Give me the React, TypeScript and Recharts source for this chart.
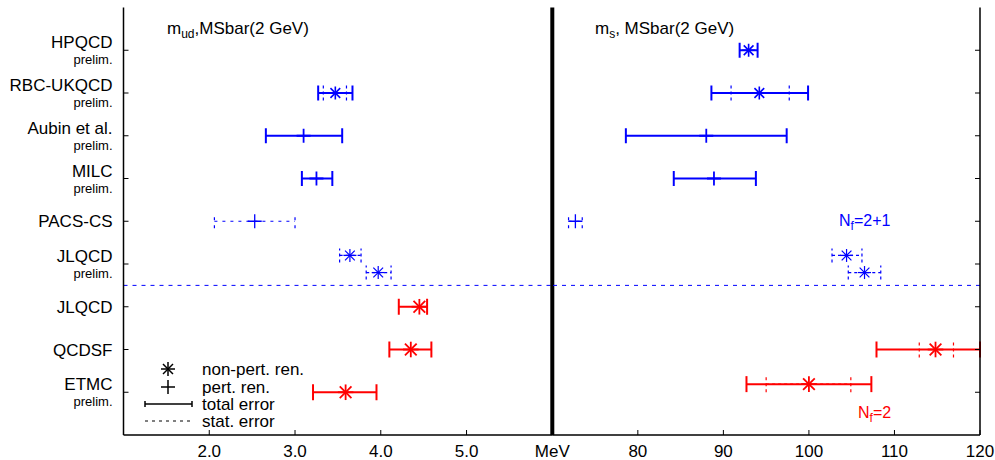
import { ScatterChart, Scatter, XAxis, YAxis, ErrorBar, ReferenceLine } from "recharts";

const FONT = "'Liberation Sans', Arial, Helvetica, sans-serif";
const BLUE = "#0000ff";
const RED = "#ff0000";

// rows, counted from the bottom (ETMC = 1)
const rowIndex = [9, 8, 7, 6, 5, 4, 3, 2, 1];
const rowNames = ["HPQCD", "RBC-UKQCD", "Aubin et al.", "MILC", "PACS-CS", "JLQCD", "JLQCD", "QCDSF", "ETMC"];
const rowPrelim = [true, true, true, true, false, true, false, false, true];

const udTicks = [2, 3, 4, 5, 6];
const udTickLabels = ["2.0", "3.0", "4.0", "5.0", "MeV"];
const sTicks = [80, 90, 100, 110, 120];
const sTickLabels = ["80", "90", "100", "110", "120"];

type Pt = { row: number; val: number; lo?: number; hi?: number; sLo?: number; sHi?: number };

// m_ud (MeV)
const udNp21: Pt[] = [{ row: 8, val: 3.47, lo: 3.27, hi: 3.67, sLo: 3.33, sHi: 3.6 }];
const udPt21: Pt[] = [
  { row: 7, val: 3.1, lo: 2.66, hi: 3.55 },
  { row: 6, val: 3.25, lo: 3.08, hi: 3.435 },
];
const udPtStat21: Pt[] = [{ row: 5, val: 2.53, sLo: 2.06, sHi: 3.0 }];
const udNpStat21: Pt[] = [
  { row: 4.2, val: 3.64, sLo: 3.52, sHi: 3.77 },
  { row: 3.8, val: 3.97, sLo: 3.83, sHi: 4.12 },
];
const udNp2: Pt[] = [
  { row: 3, val: 4.45, lo: 4.21, hi: 4.54 },
  { row: 2, val: 4.35, lo: 4.1, hi: 4.59 },
  { row: 1, val: 3.59, lo: 3.21, hi: 3.95 },
];

// m_s (MeV)
const sNp21: Pt[] = [
  { row: 9, val: 92.95, lo: 91.9, hi: 94.0 },
  { row: 8, val: 94.2, lo: 88.6, hi: 99.9, sLo: 90.9, sHi: 97.7 },
];
const sPt21: Pt[] = [
  { row: 7, val: 88.0, lo: 78.6, hi: 97.4 },
  { row: 6, val: 88.9, lo: 84.2, hi: 93.8 },
];
const sPtStat21: Pt[] = [{ row: 5, val: 72.7, sLo: 71.9, sHi: 73.5 }];
const sNpStat21: Pt[] = [
  { row: 4.2, val: 104.4, sLo: 102.7, sHi: 106.2 },
  { row: 3.8, val: 106.5, sLo: 104.6, sHi: 108.4 },
];
const sNp2: Pt[] = [
  { row: 2, val: 114.8, lo: 107.9, hi: 120.0, sLo: 112.9, sHi: 116.9 },
  { row: 1.19, val: 100.0, lo: 92.7, hi: 107.3, sLo: 95.0, sHi: 104.9 },
];

const totErr = (d: Pt) => (d.lo == null || d.hi == null ? null : [d.val - d.lo, d.hi - d.val]);
const statErr = (d: Pt) => (d.sLo == null || d.sHi == null ? null : [d.val - d.sLo, d.sHi - d.val]);

const starShape = (color: string, r: number, w: number) => (p: any) => {
  const { cx, cy } = p;
  const d = r * 0.75;
  return (
    <g stroke={color} strokeWidth={w}>
      <line x1={cx - r} y1={cy} x2={cx + r} y2={cy} />
      <line x1={cx} y1={cy - r} x2={cx} y2={cy + r} />
      <line x1={cx - d} y1={cy - d} x2={cx + d} y2={cy + d} />
      <line x1={cx - d} y1={cy + d} x2={cx + d} y2={cy - d} />
    </g>
  );
};

const plusShape = (color: string, r: number, w: number) => (p: any) => {
  const { cx, cy } = p;
  return (
    <g stroke={color} strokeWidth={w}>
      <line x1={cx - r} y1={cy} x2={cx + r} y2={cy} />
      <line x1={cx} y1={cy - r} x2={cx} y2={cy + r} />
    </g>
  );
};

const bottomTick = (ticks: number[], labels: string[]) => (p: any) => {
  const { x, y, payload } = p;
  const i = ticks.indexOf(payload.value);
  return (
    <g>
      <line x1={x} y1={y} x2={x} y2={y - 5} stroke="#000" strokeWidth={1} />
      <text x={x} y={y + 22} textAnchor="middle" fontSize={17} fontFamily={FONT} fill="#000">
        {labels[i]}
      </text>
    </g>
  );
};

const topTick = (p: any) => {
  const { x, y } = p;
  return <line x1={x} y1={y} x2={x} y2={y + 5} stroke="#000" strokeWidth={1} />;
};

const leftTick = (p: any) => {
  const { x, y, payload } = p;
  const i = rowIndex.indexOf(payload.value);
  const pre = rowPrelim[i];
  return (
    <g>
      <line x1={x} y1={y} x2={x + 5} y2={y} stroke="#000" strokeWidth={1} />
      <text x={x - 11} y={pre ? y - 2 : y + 6} textAnchor="end" fontSize={17} fontFamily={FONT} fill="#000">
        {rowNames[i]}
      </text>
      {pre && (
        <text x={x - 11} y={y + 14} textAnchor="end" fontSize={13} fontFamily={FONT} fill="#000">
          prelim.
        </text>
      )}
    </g>
  );
};

const rightTick = (p: any) => {
  const { x, y } = p;
  return <line x1={x} y1={y} x2={x - 5} y2={y} stroke="#000" strokeWidth={1} />;
};

function series(np21: Pt[], pt21: Pt[], ptStat21: Pt[], npStat21: Pt[], np2: Pt[]) {
  const ax = { xAxisId: "b", yAxisId: "l", isAnimationActive: false };
  return [
    <Scatter key="np21" {...ax} data={np21} shape={starShape(BLUE, 6.5, 1.6)}>
      <ErrorBar direction="x" dataKey={totErr as any} width={7.5} stroke={BLUE} strokeWidth={2} isAnimationActive={false} />
      <ErrorBar direction="x" dataKey={statErr as any} width={7.5} stroke={BLUE} strokeWidth={1.2} strokeDasharray="3 3" isAnimationActive={false} />
    </Scatter>,
    <Scatter key="pt21" {...ax} data={pt21} shape={plusShape(BLUE, 7, 1.8)}>
      <ErrorBar direction="x" dataKey={totErr as any} width={7.5} stroke={BLUE} strokeWidth={2} isAnimationActive={false} />
    </Scatter>,
    <Scatter key="ptStat21" {...ax} data={ptStat21} shape={plusShape(BLUE, 7, 1.3)}>
      <ErrorBar direction="x" dataKey={statErr as any} width={7} stroke={BLUE} strokeWidth={1.2} strokeDasharray="3 5" isAnimationActive={false} />
    </Scatter>,
    <Scatter key="npStat21" {...ax} data={npStat21} shape={starShape(BLUE, 6.5, 1.2)}>
      <ErrorBar direction="x" dataKey={statErr as any} width={7} stroke={BLUE} strokeWidth={1.2} strokeDasharray="3 3" isAnimationActive={false} />
    </Scatter>,
    <Scatter key="np2" {...ax} data={np2} shape={starShape(RED, 7.8, 1.8)}>
      <ErrorBar direction="x" dataKey={totErr as any} width={8} stroke={RED} strokeWidth={2} isAnimationActive={false} />
      <ErrorBar direction="x" dataKey={statErr as any} width={8} stroke={RED} strokeWidth={1.2} strokeDasharray="3 3" isAnimationActive={false} />
    </Scatter>,
  ];
}

const axisStyle = { stroke: "#000", strokeWidth: 1.5 };

export default function App() {
  return (
    <div style={{ position: "absolute", left: 0, top: 0, width: 995, height: 460, background: "#fff" }}>
      <div style={{ position: "absolute", left: 0, top: 0 }}>
        <ScatterChart width={600} height={460} margin={{ top: 7.5, right: 47.7, bottom: 0, left: 0 }}>
          <XAxis xAxisId="b" dataKey="val" type="number" domain={[1, 6]} allowDataOverflow ticks={udTicks} interval={0}
            height={25} tickSize={0} tickMargin={0} tick={bottomTick(udTicks, udTickLabels)} axisLine={axisStyle} tickLine={false} />
          <XAxis xAxisId="t" orientation="top" type="number" domain={[1, 6]} allowDataOverflow ticks={[2, 3, 4, 5]} interval={0}
            height={0} tickSize={0} tickMargin={0} tick={topTick} axisLine={axisStyle} tickLine={false} />
          <YAxis yAxisId="l" dataKey="row" type="number" domain={[0, 10]} allowDataOverflow ticks={rowIndex} interval={0}
            width={123.5} tickSize={0} tickMargin={0} tick={leftTick} axisLine={axisStyle} tickLine={false} />
          <ReferenceLine xAxisId="b" yAxisId="l" y={3.5} stroke={BLUE} strokeWidth={1} strokeDasharray="4 5" />
          <ReferenceLine xAxisId="b" yAxisId="l" x={6} stroke="#000" strokeWidth={4} />
          {series(udNp21, udPt21, udPtStat21, udNpStat21, udNp2)}
        </ScatterChart>
      </div>
      <div style={{ position: "absolute", left: 0, top: 0 }}>
        <ScatterChart width={995} height={460} margin={{ top: 7.5, right: 0, bottom: 0, left: 552.3 }}>
          <XAxis xAxisId="b" dataKey="val" type="number" domain={[70, 120]} allowDataOverflow ticks={sTicks} interval={0}
            height={25} tickSize={0} tickMargin={0} tick={bottomTick(sTicks, sTickLabels)} axisLine={axisStyle} tickLine={false} />
          <XAxis xAxisId="t" orientation="top" type="number" domain={[70, 120]} allowDataOverflow ticks={[80, 90, 100, 110]} interval={0}
            height={0} tickSize={0} tickMargin={0} tick={topTick} axisLine={axisStyle} tickLine={false} />
          <YAxis yAxisId="l" dataKey="row" orientation="right" type="number" domain={[0, 10]} allowDataOverflow ticks={rowIndex} interval={0}
            width={15} tickSize={0} tickMargin={0} tick={rightTick} axisLine={axisStyle} tickLine={false} />
          <ReferenceLine xAxisId="b" yAxisId="l" y={3.5} stroke={BLUE} strokeWidth={1} strokeDasharray="4 5" />
          {series(sNp21, sPt21, sPtStat21, sNpStat21, sNp2)}
        </ScatterChart>
      </div>
      <svg width={995} height={460} style={{ position: "absolute", left: 0, top: 0, pointerEvents: "none" }} fontFamily={FONT}>
        <text x={167} y={34} fontSize={17} fill="#000">
          m<tspan dy={4} fontSize={12}>ud</tspan>
          <tspan dy={-4}>,MSbar(2 GeV)</tspan>
        </text>
        <text x={595} y={34} fontSize={17} fill="#000">
          m<tspan dy={4} fontSize={12}>s</tspan>
          <tspan dy={-4}>, MSbar(2 GeV)</tspan>
        </text>
        <text x={839} y={226} fontSize={16} fill={BLUE}>
          N<tspan dy={4} fontSize={12}>f</tspan>
          <tspan dy={-4}>=2+1</tspan>
        </text>
        <text x={858} y={418} fontSize={16} fill={RED}>
          N<tspan dy={4} fontSize={12}>f</tspan>
          <tspan dy={-4}>=2</tspan>
        </text>
        {/* legend */}
        <g stroke="#000" strokeWidth={1.5}>
          <line x1={161} y1={369} x2={175} y2={369} />
          <line x1={168} y1={362} x2={168} y2={376} />
          <line x1={163} y1={364} x2={173} y2={374} />
          <line x1={163} y1={374} x2={173} y2={364} />
          <line x1={161} y1={387} x2={175} y2={387} />
          <line x1={168} y1={380} x2={168} y2={394} />
          <line x1={145} y1={404} x2={192} y2={404} />
          <line x1={145} y1={401} x2={145} y2={407} />
          <line x1={192} y1={401} x2={192} y2={407} />
        </g>
        <line x1={145} y1={421} x2={192} y2={421} stroke="#000" strokeWidth={1} strokeDasharray="3 4" />
        <g fontSize={17} fill="#000">
          <text x={202} y={375}>non-pert. ren.</text>
          <text x={202} y={393}>pert. ren.</text>
          <text x={202} y={410}>total error</text>
          <text x={202} y={427}>stat. error</text>
        </g>
      </svg>
    </div>
  );
}
